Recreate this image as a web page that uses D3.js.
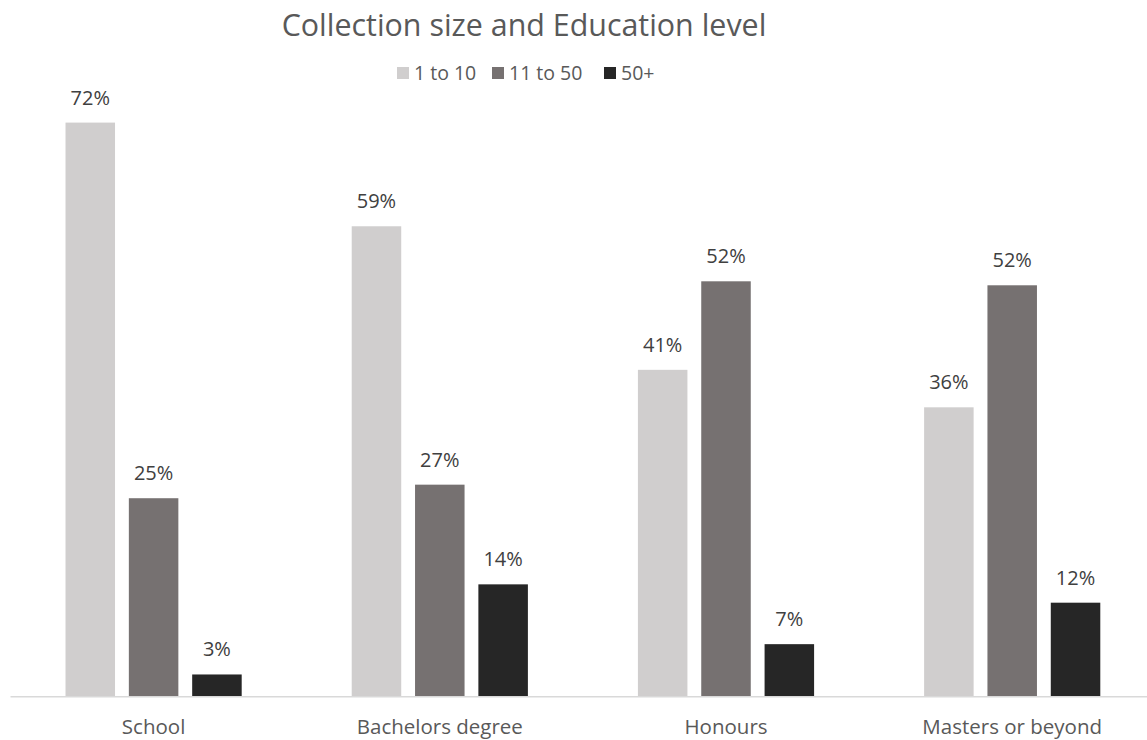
<!DOCTYPE html>
<html>
<head>
<meta charset="utf-8">
<script src="https://cdn.jsdelivr.net/npm/d3@7"></script>
<style>
  html, body { margin: 0; padding: 0; background: #fff; }
  svg { display: block; font-family: "Open Sans", sans-serif; }
</style>
</head>
<body>
<svg id="chart" width="1147" height="740"></svg>
<script>
const categories = ["School", "Bachelors degree", "Honours", "Masters or beyond"];
const seriesNames = ["1 to 10", "11 to 50", "50+"];
const seriesColors = ["#D0CECE", "#767171", "#262626"];
// percent values per series, in category order
const s1to10 = [71.9, 58.9, 40.9, 36.2];
const s11to50 = [24.8, 26.5, 52.0, 51.5];
const s50plus = [2.7, 14.0, 6.5, 11.7];
const titleText = "Collection size and Education level";

const seriesValues = [s1to10, s11to50, s50plus];

const svg = d3.select("#chart");
const plotLeft = 10.5, plotRight = 1155.3, baseY = 696, topY = 58;

const x0 = d3.scaleBand().domain(categories).range([plotLeft, plotRight]).paddingInner(0).paddingOuter(0);
const y = d3.scaleLinear().domain([0, 80]).range([baseY, topY]);

const bw = x0.bandwidth();
const barW = bw * 0.173;
const barStep = bw * 0.2213;
const groupW = barStep * 2 + barW;

// title
svg.append("text")
  .attr("x", 524).attr("y", 36)
  .attr("text-anchor", "middle")
  .attr("font-size", 30.4)
  .attr("fill", "#595959")
  .text(titleText);

// legend
const legendX = [397, 492, 604];
const lg = svg.append("g");
seriesNames.forEach((name, i) => {
  lg.append("rect")
    .attr("x", legendX[i]).attr("y", 67)
    .attr("width", 12).attr("height", 12)
    .attr("fill", seriesColors[i]);
  lg.append("text")
    .attr("x", legendX[i] + 17).attr("y", 80)
    .attr("font-size", 19.5)
    .attr("fill", "#595959")
    .text(name);
});

// axis line
svg.append("line")
  .attr("x1", plotLeft).attr("x2", plotRight)
  .attr("y1", baseY + 0.75).attr("y2", baseY + 0.75)
  .attr("stroke", "#D9D9D9").attr("stroke-width", 1.5);

// bars + labels
const data = [];
categories.forEach((c, ci) => {
  seriesValues.forEach((vals, si) => {
    data.push({ cat: c, si, v: vals[ci] });
  });
});

const barX = d => x0(d.cat) + (bw - groupW) / 2 + d.si * barStep;

svg.append("g").selectAll("rect").data(data).join("rect")
  .attr("x", barX)
  .attr("y", d => y(d.v))
  .attr("width", barW)
  .attr("height", d => baseY - y(d.v))
  .attr("fill", d => seriesColors[d.si]);

svg.append("g").selectAll("text").data(data).join("text")
  .attr("x", d => barX(d) + barW / 2)
  .attr("y", d => y(d.v) - 18)
  .attr("text-anchor", "middle")
  .attr("font-size", 20)
  .attr("fill", "#404040")
  .text(d => Math.round(d.v) + "%");

// category labels via axis
const axis = d3.axisBottom(x0).tickSize(0).tickPadding(0);
const ag = svg.append("g").attr("transform", `translate(0,${baseY})`).call(axis);
ag.select(".domain").remove();
ag.selectAll("text")
  .attr("font-family", "Open Sans, sans-serif")
  .attr("font-size", 20.5)
  .attr("fill", "#595959")
  .attr("dy", null)
  .attr("y", 38);
</script>
</body>
</html>
